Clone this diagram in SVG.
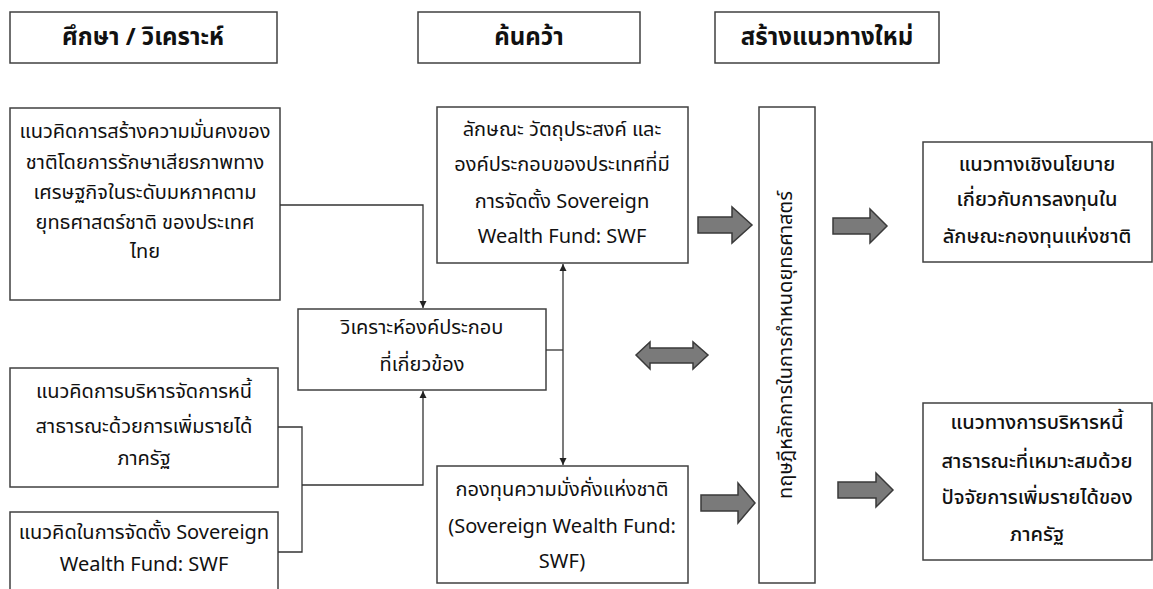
<svg xmlns="http://www.w3.org/2000/svg" width="1153" height="589" viewBox="0 0 1153 589">
<style>
.box{fill:#fff;stroke:#404040;stroke-width:1.5}
.t{font-family:"Noto Sans Thai","Noto Sans","DejaVu Sans",sans-serif;font-size:20px;fill:#111;text-anchor:middle;dominant-baseline:central}
.h{font-weight:bold;font-size:24px}
.b5{font-weight:500}
.blk{fill:#7a7a7a;stroke:#3a3a3a;stroke-width:1.5}
.ln{fill:none;stroke:#333;stroke-width:1.3}
</style>
<defs>
<marker id="ah" markerWidth="8" markerHeight="8" refX="7" refY="4" orient="auto-start-reverse" markerUnits="userSpaceOnUse">
<path d="M0,0.5 L7,4 L0,7.5 Z" fill="#222"/>
</marker>
</defs>
<rect width="1153" height="589" fill="#fff"/>
<g id="h1"><rect class="box" x="10" y="12" width="267" height="51"/><text class="t h" x="143" y="38">ศึกษา / วิเคราะห์</text></g>
<g id="h2"><rect class="box" x="418" y="12" width="222" height="51"/><text class="t h" x="529" y="38">ค้นคว้า</text></g>
<g id="h3"><rect class="box" x="715" y="12" width="224" height="51"/><text class="t h" x="827" y="38">สร้างแนวทางใหม่</text></g>

<g id="l1"><rect class="box" x="10" y="108" width="270" height="192"/>
<text class="t" x="145" y="132">แนวคิดการสร้างความมั่นคงของ</text>
<text class="t" x="145" y="163">ชาติโดยการรักษาเสียรภาพทาง</text>
<text class="t" x="145" y="193">เศรษฐกิจในระดับมหภาคตาม</text>
<text class="t" x="145" y="223">ยุทธศาสตร์ชาติ ของประเทศ</text>
<text class="t" x="145" y="252">ไทย</text></g>

<g id="l2"><rect class="box" x="10" y="368" width="268" height="119"/>
<text class="t" x="144" y="392">แนวคิดการบริหารจัดการหนี้</text>
<text class="t" x="144" y="427">สาธารณะด้วยการเพิ่มรายได้</text>
<text class="t" x="144" y="459">ภาครัฐ</text></g>

<g id="l3"><rect class="box" x="10" y="512" width="268" height="90"/>
<text class="t" x="144" y="533">แนวคิดในการจัดตั้ง Sovereign</text>
<text class="t" x="144" y="565">Wealth Fund: SWF</text></g>

<g id="c0"><rect class="box" x="298" y="309" width="248" height="81"/>
<text class="t" x="422" y="328">วิเคราะห์องค์ประกอบ</text>
<text class="t" x="422" y="365">ที่เกี่ยวข้อง</text></g>

<g id="c1"><rect class="box" x="437" y="107" width="251" height="156"/>
<text class="t" x="562" y="130">ลักษณะ วัตถุประสงค์ และ</text>
<text class="t" x="562" y="165">องค์ประกอบของประเทศที่มี</text>
<text class="t" x="562" y="202">การจัดตั้ง Sovereign</text>
<text class="t" x="562" y="237">Wealth Fund: SWF</text></g>

<g id="c2"><rect class="box" x="437" y="466" width="251" height="117"/>
<text class="t" x="562" y="490">กองทุนความมั่งคั่งแห่งชาติ</text>
<text class="t" x="562" y="527">(Sovereign Wealth Fund:</text>
<text class="t" x="562" y="562">SWF)</text></g>

<g id="v"><rect class="box" x="759" y="107" width="56" height="476"/>
<text class="t" transform="translate(786,345) rotate(-90)" x="0" y="0">ทฤษฎีหลักการในการกำหนดยุทธศาสตร์</text></g>

<g id="r1"><rect class="box" x="923" y="142" width="229" height="120"/>
<text class="t b5" x="1037" y="165">แนวทางเชิงนโยบาย</text>
<text class="t b5" x="1037" y="200">เกี่ยวกับการลงทุนใน</text>
<text class="t b5" x="1037" y="237">ลักษณะกองทุนแห่งชาติ</text></g>

<g id="r2"><rect class="box" x="923" y="403" width="229" height="157"/>
<text class="t b5" x="1037" y="423">แนวทางการบริหารหนี้</text>
<text class="t b5" x="1037" y="462">สาธารณะที่เหมาะสมด้วย</text>
<text class="t b5" x="1037" y="498">ปัจจัยการเพิ่มรายได้ของ</text>
<text class="t b5" x="1037" y="535">ภาครัฐ</text></g>

<g id="connectors">
<path class="ln" d="M280,205 H423 V308" marker-end="url(#ah)"/>
<path class="ln" d="M278,427 H302 V552 H278"/>
<path class="ln" d="M302,485 H423 V391" marker-end="url(#ah)"/>
<path class="ln" d="M546,350 H563"/>
<path class="ln" d="M563,264 V465" marker-start="url(#ah)" marker-end="url(#ah)"/>
<path class="blk" d="M698,217 H732 V207 L752,225 L732,243 V233 H698 Z"/>
<path class="blk" d="M701,495 H738 V483 L755,503 L738,523 V511 H701 Z"/>
<path class="blk" d="M833,218 H870 V209 L887,226 L870,243 V234 H833 Z"/>
<path class="blk" d="M838,482 H876 V473 L893,490 L876,507 V498 H838 Z"/>
<path class="blk" d="M636,355 L650,342 V348 H693 V342 L708,355 L693,369 V363 H650 V369 Z"/>
</g>
</svg>
